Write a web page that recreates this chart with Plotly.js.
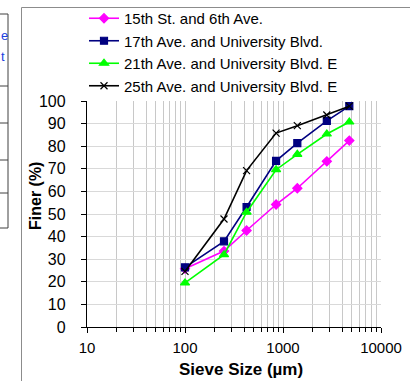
<!DOCTYPE html>
<html><head><meta charset="utf-8">
<script src="https://cdn.plot.ly/plotly-3.0.1.min.js"></script>
<style>html,body{margin:0;padding:0;background:#fff;}#chart{width:410px;height:381px;}</style>
</head><body><div id="chart"></div>
<script>
// Data
const sieveSizes = [100, 250, 425, 850, 1400, 2800, 4750];
const site15th = [25.8, 33.6, 42.7, 54.2, 61.4, 73.3, 82.5];
const site17th = [26.4, 37.9, 53.1, 73.5, 81.4, 91.2, 97.7];
const site21st = [19.5, 32.0, 50.8, 69.6, 76.4, 85.4, 90.7];
const site25th = [24.6, 47.8, 69.2, 85.8, 89.1, 93.8, 97.7];
const seriesNames = ["15th St. and 6th Ave.", "17th Ave. and University Blvd.", "21th Ave. and University Blvd. E", "25th Ave. and University Blvd. E"];
const xTickVals = [10, 100, 1000, 10000];
const xTickText = ["10", "100", "1000", "10000"];
const xTitle = "Sieve Size (µm)";
const yTitle = "Finer (%)";

// plot-area pixel geometry
const W = 410, H = 381, L = 87, R = 381, T = 101, B = 327;
const px = x => (x - L) / (R - L);
const py = y => (B - y) / (B - T);

const minorVals = [];
[10, 100, 1000].forEach(d => { for (let k = 2; k <= 9; k++) minorVals.push(k * d); });

const font = "Liberation Sans, Arial, sans-serif";
const traces = [
  {x: sieveSizes, y: site15th, name: seriesNames[0], color: "#ff00ff", symbol: "diamond", size: 7},
  {x: sieveSizes, y: site17th, name: seriesNames[1], color: "#000080", symbol: "square", size: 7},
  {x: sieveSizes, y: site21st, name: seriesNames[2], color: "#00ff00", symbol: "triangle-up", size: 8},
  {x: sieveSizes, y: site25th, name: seriesNames[3], color: "#000000", symbol: "x-thin-open", size: 7}
].map(s => ({
  type: "scatter", mode: "lines+markers", x: s.x, y: s.y, name: s.name,
  line: {color: s.color, width: 1.6},
  marker: {symbol: s.symbol, size: s.size, color: s.color, line: {color: s.color, width: 1.2}}
}));

const shapes = [
  // outer chart frame
  {type: "rect", xref: "paper", yref: "paper", x0: px(21.5), x1: px(430), y0: py(400), y1: py(7.5), line: {color: "#8c8c8c", width: 1}},
  // left neighbouring table fragment
  {type: "line", xref: "paper", yref: "paper", x0: px(8), x1: px(8), y0: py(14), y1: py(228), line: {color: "#404040", width: 1}}
];
[14, 86, 123, 160, 193, 228].forEach(yy => shapes.push(
  {type: "line", xref: "paper", yref: "paper", x0: px(-5), x1: px(8), y0: py(yy), y1: py(yy), line: {color: "#404040", width: 1}}
));

const annotations = [
  {xref: "paper", yref: "paper", x: px(35), y: py(196), text: "<b>" + yTitle + "</b>", textangle: -90, showarrow: false, font: {family: font, size: 16, color: "#000"}, xanchor: "center", yanchor: "middle"},
  {xref: "paper", yref: "paper", x: px(241), y: py(369), text: "<b>" + xTitle + "</b>", showarrow: false, font: {family: font, size: 17, color: "#000"}, xanchor: "center", yanchor: "middle"},
  {xref: "paper", yref: "paper", x: px(0), y: py(35), text: "e", showarrow: false, font: {family: font, size: 13, color: "#2040e0"}, xanchor: "left", yanchor: "middle", borderpad: 0},
  {xref: "paper", yref: "paper", x: px(0), y: py(57), text: "t", showarrow: false, font: {family: font, size: 13, color: "#2040e0"}, xanchor: "left", yanchor: "middle", borderpad: 0}
];

const layout = {
  width: W, height: H,
  margin: {l: L, r: W - R, t: T, b: H - B, pad: 0, autoexpand: false},
  paper_bgcolor: "#fff", plot_bgcolor: "#fff",
  font: {family: font, color: "#000"},
  showlegend: true,
  legend: {x: px(84), y: py(2), xanchor: "left", yanchor: "top", bgcolor: "rgba(0,0,0,0)", font: {family: font, size: 15, color: "#000"}, tracegroupgap: 0, itemwidth: 30},
  xaxis: {
    type: "log", range: [1, 4], tickmode: "array", tickvals: xTickVals, ticktext: xTickText,
    ticks: "outside", ticklen: 5, tickcolor: "#000", tickwidth: 1,
    showline: true, linecolor: "#000", linewidth: 1.2, mirror: false,
    showgrid: true, gridcolor: "#c8c8c8", gridwidth: 1,
    tickfont: {family: font, size: 15, color: "#000"}, ticklabelstandoff: 2,
    minor: {tickmode: "array", tickvals: minorVals, ticks: "outside", ticklen: 4, tickcolor: "#000", showgrid: true, gridcolor: "#c8c8c8", gridwidth: 1},
    zeroline: false, fixedrange: true, automargin: false
  },
  yaxis: {
    range: [0, 100], dtick: 10, tick0: 0,
    ticks: "outside", ticklen: 5, tickcolor: "#000", tickwidth: 1,
    showline: true, linecolor: "#000", linewidth: 1.2,
    showgrid: true, gridcolor: "#d9d9d9", gridwidth: 1,
    tickfont: {family: font, size: 16, color: "#000"}, ticklabelstandoff: 12,
    zeroline: false, fixedrange: true, automargin: false
  },
  shapes: shapes,
  annotations: annotations
};

Plotly.newPlot("chart", traces, layout, {staticPlot: true, displayModeBar: false});
</script></body></html>
